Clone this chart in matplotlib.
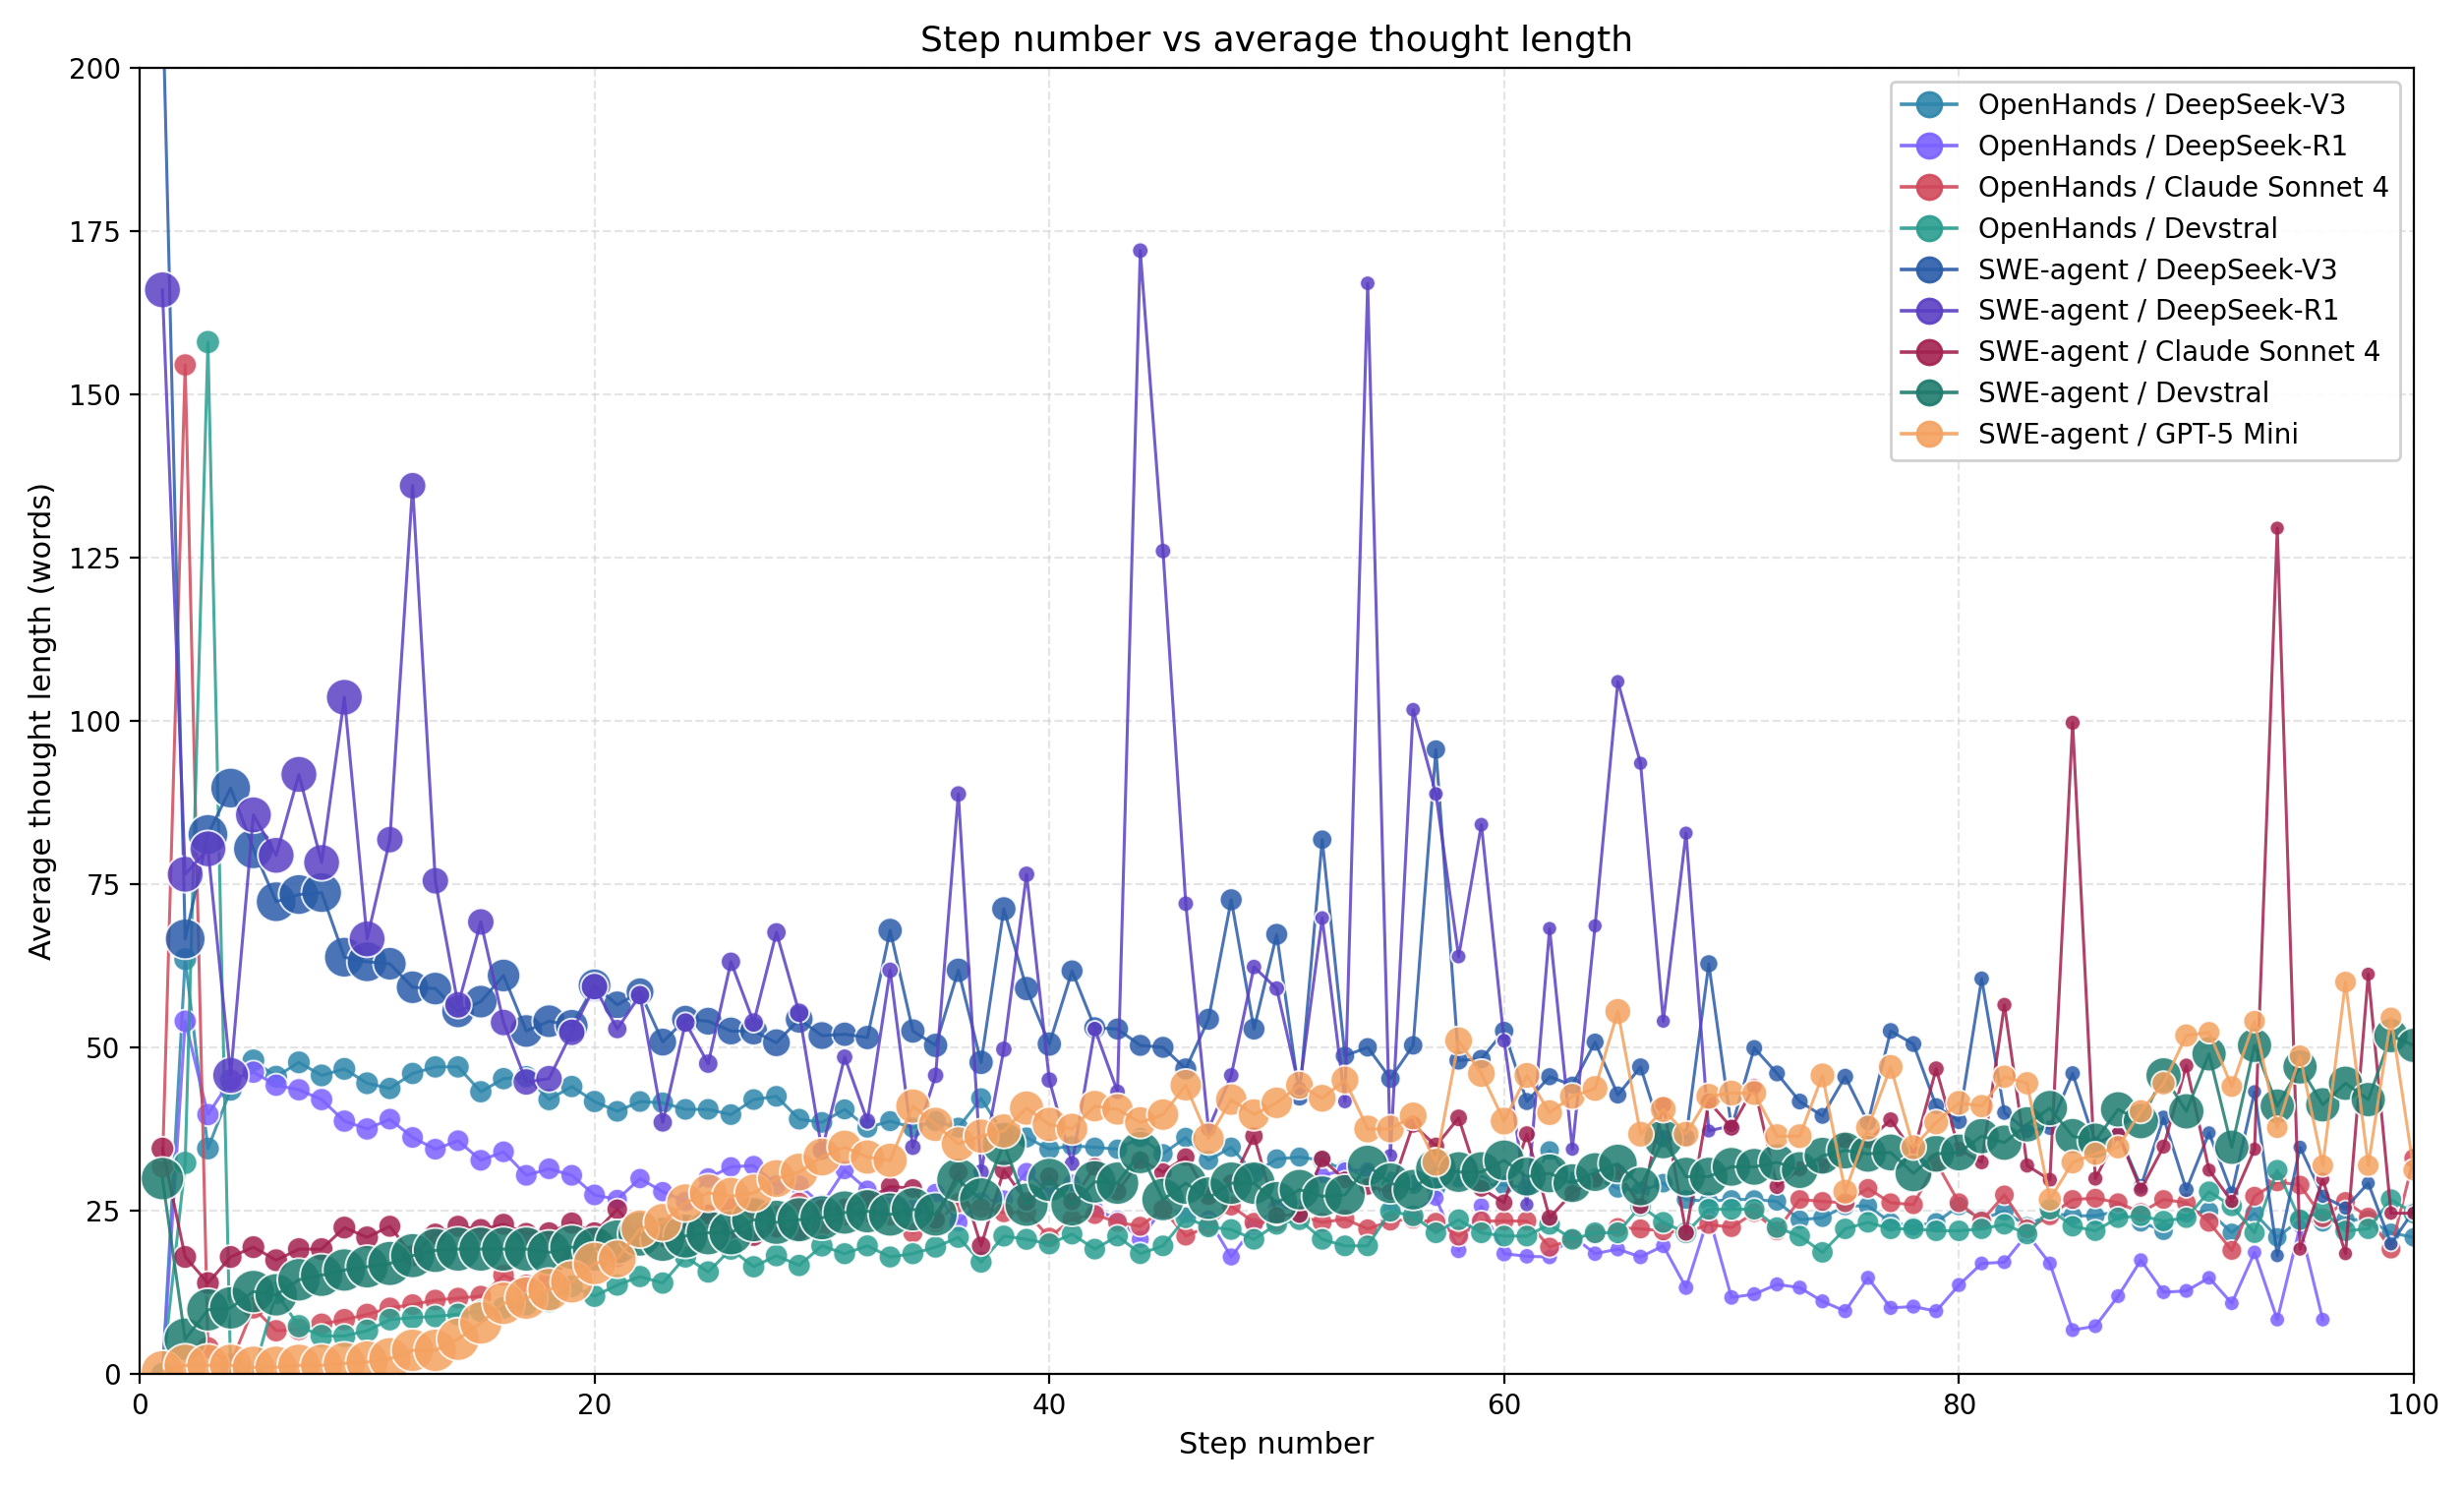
import numpy as np
import matplotlib
matplotlib.use('Agg')
import matplotlib.pyplot as plt
from matplotlib.lines import Line2D

# Average thought length (words) per step.
oh_v3 = [0, 63.5, 34.5, 43.5, 48.0, 45.5, 47.7, 45.7, 46.7, 44.5,
         43.7, 46.0, 47.0, 47.0, 43.2, 45.2, 45.5, 42.0, 44.0, 41.7,
         40.2, 41.7, 41.5, 40.5, 40.5, 39.7, 42.0, 42.5, 39.0, 38.5,
         40.5, 37.7, 38.7, 37.7, 38.7, 37.7, 42.2, 36.7, 36.2, 34.4,
         34.9, 34.7, 34.4, 36.2, 33.7, 36.2, 32.7, 34.7, 30.7, 32.9,
         33.2, 32.7, 31.2, 30.5, 29.5, 29.0, 28.5, 30.0, 29.0, 28.9,
         28.5, 34.2, 29.5, 30.0, 28.4, 28.0, 29.2, 26.7, 26.4, 26.7,
         26.7, 26.4, 23.6, 23.9, 25.7, 25.7, 23.2, 22.6, 23.2, 25.7,
         23.7, 24.9, 22.6, 24.6, 24.2, 24.2, 24.9, 23.2, 21.9, 24.6,
         24.9, 21.6, 24.6, 20.9, 23.6, 23.2, 23.6, 23.6, 21.6, 20.9]
oh_r1 = [0, 54.0, 39.7, 45.0, 46.2, 44.2, 43.5, 42.0, 38.7, 37.5,
         39.0, 36.2, 34.4, 35.7, 32.7, 34.0, 30.4, 31.4, 30.4, 27.4,
         26.7, 29.9, 27.9, 26.4, 30.0, 31.7, 31.9, 28.9, 28.9, 25.9,
         31.2, 28.2, 27.4, 25.2, 27.7, 23.2, 26.4, 26.7, 30.9, 27.9,
         29.2, 25.2, 23.7, 20.6, 25.4, 24.4, 23.7, 17.9, 22.6, 25.4,
         25.4, 30.4, 31.2, 31.2, 25.2, 24.7, 26.9, 18.9, 25.7, 18.4,
         18.0, 17.9, 21.1, 18.4, 19.1, 17.9, 19.6, 13.2, 24.2, 11.7,
         12.2, 13.7, 13.2, 11.1, 9.6, 14.7, 10.1, 10.3, 9.6, 13.6,
         16.9, 17.1, 21.4, 16.9, 6.7, 7.3, 11.9, 17.4, 12.5, 12.7,
         14.7, 10.8, 18.6, 8.3, 22.6, 8.3]
oh_claude = [31.7, 154.5, 4.0, 1.5, 10.1, 6.6, 6.8, 7.6, 8.3, 9.1,
             10.1, 10.6, 11.3, 11.6, 11.9, 15.1, 13.6, 14.6, 17.6, 19.1,
             17.9, 21.6, 21.1, 21.6, 23.6, 25.4, 25.2, 24.2, 26.2, 22.6,
             24.2, 24.7, 24.2, 21.6, 23.2, 26.2, 25.4, 24.7, 24.7, 20.9,
             23.7, 24.4, 23.2, 22.6, 25.2, 21.1, 22.6, 25.7, 23.2, 23.2,
             24.2, 23.2, 23.7, 22.2, 23.4, 23.7, 23.2, 21.1, 23.4, 23.4,
             23.4, 19.4, 20.6, 21.4, 22.4, 22.2, 21.9, 21.6, 22.9, 22.4,
             24.7, 21.9, 26.7, 26.4, 26.2, 28.4, 26.2, 25.9, 32.4, 26.2,
             23.4, 27.4, 22.2, 24.2, 26.7, 26.9, 26.2, 24.7, 26.7, 26.2,
             23.2, 18.9, 27.2, 29.4, 28.9, 23.9, 26.4, 24.0, 19.1, 33.0]
oh_devstral = [0, 32.3, 158.0, 0, 0, 12.4, 7.3, 5.8, 5.8, 6.6,
               8.3, 8.6, 8.8, 9.1, 9.6, 10.1, 10.6, 11.1, 13.4, 11.9,
               13.6, 14.9, 13.9, 17.9, 15.6, 19.1, 16.4, 18.1, 16.6, 19.6,
               18.4, 19.6, 17.9, 18.4, 19.4, 20.9, 17.1, 21.1, 20.6, 19.9,
               21.4, 19.1, 21.1, 18.4, 19.6, 23.9, 22.5, 22.1, 20.6, 22.9,
               23.6, 20.6, 19.6, 19.6, 24.9, 24.2, 21.6, 23.6, 21.6, 21.1,
               21.1, 22.9, 20.6, 21.6, 21.6, 25.7, 23.2, 21.6, 25.2, 25.2,
               25.2, 22.4, 21.1, 18.6, 22.2, 23.2, 22.2, 22.2, 21.9, 21.9,
               22.2, 22.9, 21.4, 25.2, 22.6, 21.9, 23.9, 24.2, 23.4, 23.9,
               27.9, 25.7, 21.6, 31.2, 23.6, 24.9, 21.9, 22.2, 26.7, 24.6]
swe_v3 = [212, 66.6, 82.6, 89.7, 80.4, 72.3, 73.4, 73.7, 63.8, 63.1,
          62.8, 59.2, 59.0, 55.5, 57.0, 61.0, 52.5, 54.0, 53.3, 59.5,
          56.5, 58.5, 50.8, 54.3, 54.0, 52.5, 52.5, 50.7, 54.3, 51.8,
          52.0, 51.5, 67.9, 52.5, 50.3, 61.8, 47.7, 71.2, 59.0, 50.5,
          61.7, 53.0, 52.8, 50.3, 50.0, 46.7, 54.3, 72.6, 52.8, 67.3,
          42.5, 81.8, 48.7, 50.0, 45.2, 50.3, 95.6, 48.0, 48.2, 52.5,
          41.7, 45.5, 44.2, 50.8, 42.7, 47.0, 36.0, 36.2, 62.8, 37.7,
          49.9, 46.0, 41.7, 39.5, 45.5, 38.5, 52.5, 50.5, 41.0, 38.7,
          60.5, 40.0, 37.2, 37.7, 46.0, 35.2, 36.9, 28.7, 39.2, 28.2,
          36.9, 27.7, 43.2, 18.1, 34.7, 27.2, 25.4, 29.2, 19.9, 25.0]
swe_r1 = [166, 76.5, 80.4, 45.7, 85.6, 79.4, 91.8, 78.3, 103.6, 66.6,
          81.8, 136, 75.5, 56.5, 69.2, 53.8, 44.7, 45.2, 52.3, 59.3,
          52.8, 58.0, 38.5, 53.8, 47.5, 63.1, 53.8, 67.6, 55.3, 34.2,
          48.5, 38.7, 61.8, 34.7, 45.7, 88.8, 30.9, 49.7, 76.5, 45.0,
          32.2, 52.8, 43.2, 172, 126, 72.0, 37.5, 45.7, 62.3, 59.0,
          43.7, 69.8, 41.7, 167, 33.4, 101.7, 88.8, 63.9, 84.1, 51.0,
          25.9, 68.2, 34.4, 68.6, 106, 93.5, 54.0, 82.8, 37.2, 38.0]
swe_claude = [34.5, 17.9, 13.9, 17.9, 19.4, 17.4, 19.1, 19.1, 22.4, 20.9,
              22.6, 18.1, 21.4, 22.6, 22.1, 22.9, 21.5, 21.6, 23.1, 21.6,
              25.2, 21.4, 21.0, 22.5, 24.4, 22.2, 21.1, 22.4, 21.9, 25.2,
              25.4, 26.7, 28.7, 28.4, 23.6, 30.9, 19.6, 31.2, 26.4, 30.2,
              26.4, 31.7, 27.9, 32.7, 30.9, 33.2, 27.2, 29.2, 36.4, 24.2,
              24.4, 32.9, 29.7, 28.7, 27.9, 38.2, 34.9, 39.2, 28.4, 26.2,
              36.7, 23.9, 27.7, 29.7, 30.9, 25.7, 41.2, 21.6, 41.7, 37.7,
              44.0, 28.7, 31.4, 31.9, 35.7, 35.7, 38.9, 33.9, 46.7, 34.4,
              32.4, 56.5, 31.9, 29.7, 99.7, 29.9, 36.7, 28.2, 34.8, 47.2,
              31.2, 26.4, 34.4, 129.5, 19.1, 29.8, 18.4, 61.2, 24.6, 24.6]
swe_devstral = [29.9, 5.3, 9.8, 10.1, 12.6, 12.1, 14.4, 15.1, 15.9, 16.4,
                16.9, 18.1, 18.9, 19.1, 19.1, 19.1, 19.1, 18.6, 19.4, 19.1,
                20.2, 21.4, 20.6, 21.1, 21.6, 21.6, 23.6, 23.2, 23.6, 23.9,
                24.7, 24.9, 24.4, 25.2, 24.4, 29.7, 26.7, 35.2, 25.9, 29.7,
                25.9, 29.4, 29.2, 33.9, 26.7, 29.2, 26.9, 29.2, 29.2, 26.2,
                28.2, 27.2, 27.4, 31.9, 29.2, 28.2, 31.4, 30.9, 30.9, 32.7,
                30.2, 30.7, 29.2, 30.9, 32.2, 28.7, 35.9, 30.2, 30.2, 31.7,
                31.7, 32.4, 31.2, 33.4, 34.2, 33.7, 33.9, 30.7, 33.7, 33.9,
                36.4, 35.4, 38.2, 40.7, 36.4, 35.7, 40.5, 38.7, 45.7, 40.2,
                49.0, 34.7, 50.3, 41.0, 47.0, 41.2, 44.5, 42.0, 51.8, 50.3]
swe_gpt5 = [0.3, 1.3, 1.3, 1.3, 1.0, 1.0, 1.3, 1.3, 1.6, 1.8,
            2.3, 3.6, 3.6, 5.3, 7.8, 10.8, 11.6, 12.9, 14.1, 16.9,
            17.6, 22.2, 23.2, 26.2, 27.7, 27.2, 27.7, 29.9, 30.9, 33.2,
            34.7, 33.2, 32.7, 41.0, 38.2, 35.2, 36.4, 37.2, 40.7, 38.2,
            37.5, 41.0, 40.5, 38.5, 39.7, 44.2, 36.0, 42.0, 39.7, 41.5,
            44.2, 42.2, 45.0, 37.5, 37.5, 39.5, 32.4, 51.0, 46.0, 38.7,
            45.7, 40.0, 42.5, 43.7, 55.5, 36.7, 40.5, 36.7, 42.5, 43.0,
            43.0, 36.4, 36.4, 45.7, 27.9, 37.7, 47.0, 34.7, 38.5, 41.5,
            41.0, 45.5, 44.5, 26.7, 32.4, 33.7, 34.7, 40.2, 44.5, 51.8,
            52.3, 44.0, 54.0, 37.7, 48.7, 31.9, 60.0, 31.9, 54.5, 31.2]

# Rough number of trajectories still running, per block of 10 steps
# (drives marker area).
runs_oh_v3 = [75, 72, 68, 64, 60, 58, 56, 55, 55, 55]
runs_oh_r1 = [72, 68, 60, 54, 48, 40, 36, 34, 33, 32]
runs_oh_claude = [72, 68, 64, 60, 58, 58, 58, 57, 57, 57]
runs_oh_devstral = [78, 74, 72, 70, 68, 68, 68, 67, 66, 66]
runs_swe_v3 = [220, 150, 110, 85, 70, 55, 48, 42, 36, 30]
runs_swe_r1 = [180, 100, 55, 40, 36, 32, 30]
runs_swe_claude = [75, 70, 62, 55, 50, 46, 42, 38, 34, 30]
runs_swe_devstral = [250, 270, 270, 260, 250, 230, 210, 190, 175, 165]
runs_swe_gpt5 = [250, 250, 200, 165, 140, 110, 95, 88, 78, 68]

labels = ['OpenHands / DeepSeek-V3', 'OpenHands / DeepSeek-R1',
          'OpenHands / Claude Sonnet 4', 'OpenHands / Devstral',
          'SWE-agent / DeepSeek-V3', 'SWE-agent / DeepSeek-R1',
          'SWE-agent / Claude Sonnet 4', 'SWE-agent / Devstral',
          'SWE-agent / GPT-5 Mini']
series = [oh_v3, oh_r1, oh_claude, oh_devstral, swe_v3, swe_r1,
          swe_claude, swe_devstral, swe_gpt5]
runs = [runs_oh_v3, runs_oh_r1, runs_oh_claude, runs_oh_devstral, runs_swe_v3,
        runs_swe_r1, runs_swe_claude, runs_swe_devstral, runs_swe_gpt5]
colors = ['#2E86AB', '#7B61FF', '#D1495B', '#2A9D8F', '#2A5CA8',
          '#5B3FC4', '#A3214F', '#1E7B6E', '#F4A261']

fig, ax = plt.subplots(figsize=(12.53, 7.56), dpi=200)
fig.subplots_adjust(left=0.0567, right=0.9796, bottom=0.0761, top=0.9544)

handles = []
for vals, n, c, lab in zip(series, runs, colors, labels):
    steps = np.arange(1, len(vals) + 1)
    sizes = np.repeat(n, 10)[:len(vals)]
    ax.scatter(steps, vals, s=sizes, color=c, alpha=0.85,
               edgecolors='white', linewidths=0.7, zorder=2)
    ax.plot(steps, vals, color=c, lw=1.1, alpha=0.85, zorder=2)
    handles.append(Line2D([0], [0], color=c, lw=1.3, marker='o',
                          markersize=9, alpha=0.9, label=lab))

ax.set_xlim(0, 100)
ax.set_ylim(0, 200)
ax.set_xticks(range(0, 101, 20))
ax.set_yticks(range(0, 201, 25))
ax.grid(True, linestyle='--', color='#cccccc', alpha=0.5, lw=0.8)
ax.set_axisbelow(True)

ax.set_title('Step number vs average thought length', fontsize=13)
ax.set_xlabel('Step number', fontsize=11)
ax.set_ylabel('Average thought length (words)', fontsize=11)
ax.legend(handles=handles, loc='upper right', fontsize=10, framealpha=0.9)

fig.savefig('out.png', dpi=200)
